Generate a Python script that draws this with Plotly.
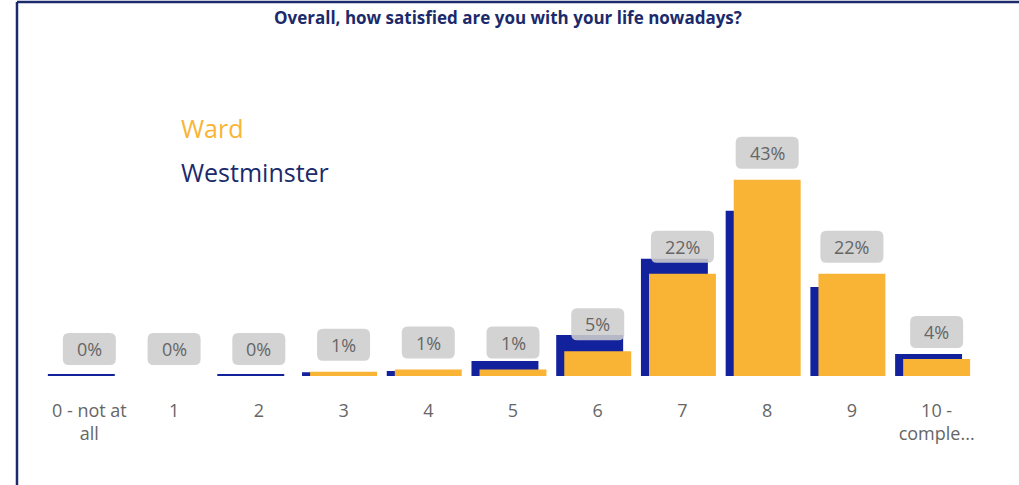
import plotly.graph_objects as go

# Survey answers, share of respondents (%)
categories = ["0", "1", "2", "3", "4", "5", "6", "7", "8", "9", "10"]
tick_labels = ["0 - not at<br>all", "1", "2", "3", "4", "5", "6", "7", "8", "9", "10 -<br>comple..."]
ward = [0, 0, 0, 0.95, 1.4, 1.4, 5.4, 22.4, 43.0, 22.4, 3.7]
westminster = [0.4, 0, 0.4, 0.8, 1.1, 3.3, 9.0, 25.7, 36.2, 19.5, 4.8]

WARD_COLOR = "#f9b436"
WESTMINSTER_COLOR = "#12229d"
NAVY = "#1b2a6b"
LABEL_GREY = "#666666"
FONT = "Open Sans"

fig = go.Figure()
fig.add_trace(go.Bar(
    x=categories, y=westminster, name="Westminster",
    marker=dict(color=WESTMINSTER_COLOR, line=dict(width=0)),
    width=0.79, offset=-0.49,
))
fig.add_trace(go.Bar(
    x=categories, y=ward, name="Ward",
    marker=dict(color=WARD_COLOR, line=dict(width=0)),
    width=0.79, offset=-0.395,
))


def rounded_box(w, y0, y1, r=6):
    x0, x1 = -w / 2, w / 2
    return (f"M {x0 + r},{y0} L {x1 - r},{y0} Q {x1},{y0} {x1},{y0 + r} "
            f"L {x1},{y1 - r} Q {x1},{y1} {x1 - r},{y1} L {x0 + r},{y1} "
            f"Q {x0},{y1} {x0},{y1 - r} L {x0},{y0 + r} Q {x0},{y0} {x0 + r},{y0} Z")


# grey rounded data labels for the Ward series
for cat, v in zip(categories, ward):
    txt = f"{round(v)}%"
    w = 33 + 10 * len(txt)
    fig.add_shape(
        type="path", xref="x", yref="y", xsizemode="pixel", ysizemode="pixel",
        xanchor=cat, yanchor=v, path=rounded_box(w, 11, 43),
        fillcolor="rgba(205,205,205,0.88)", line=dict(width=0), layer="above",
    )
    fig.add_annotation(
        x=cat, y=v, text=txt, showarrow=False, yanchor="middle", yshift=27,
        font=dict(family=FONT, size=18, color=LABEL_GREY),
    )

# text-only legend
fig.add_annotation(xref="paper", yref="paper", x=0.142, y=0.905, xanchor="left", yanchor="middle",
                   text="Ward", showarrow=False, font=dict(family=FONT, size=25, color=WARD_COLOR))
fig.add_annotation(xref="paper", yref="paper", x=0.142, y=0.745, xanchor="left", yanchor="middle",
                   text="Westminster", showarrow=False, font=dict(family=FONT, size=25, color=NAVY))

# card frame (top and left edges)
fig.add_shape(type="line", xref="paper", yref="paper", x0=-0.0322, x1=1.05, y0=1.365, y1=1.365,
              line=dict(color=NAVY, width=2.5))
fig.add_shape(type="line", xref="paper", yref="paper", x0=-0.0322, x1=-0.0322, y0=1.365, y1=-0.45,
              line=dict(color=NAVY, width=2.5))

fig.update_layout(
    width=1019, height=485,
    margin=dict(l=47, r=40, t=102, b=109),
    barmode="overlay",
    showlegend=False,
    plot_bgcolor="white", paper_bgcolor="white",
    font=dict(family=FONT, color=LABEL_GREY),
    title=dict(
        text="<b>Overall, how satisfied are you with your life nowadays?</b>",
        x=0.4985, xref="container", xanchor="center", y=0.963, yanchor="middle",
        font=dict(family=FONT, size=17, color=NAVY),
    ),
)
fig.update_xaxes(
    type="category", tickvals=categories, ticktext=tick_labels,
    showline=False, showgrid=False, ticks="", range=[-0.5, 10.5],
    tickfont=dict(family=FONT, size=18, color=LABEL_GREY), ticklabelstandoff=22,
)
fig.update_yaxes(range=[0, 60], visible=False, showgrid=False, zeroline=False)

# the page's default body margin would shift the card by 8px
fig.write_html("out.html", config={"displayModeBar": False},
               post_script="document.body.style.margin='0';")
